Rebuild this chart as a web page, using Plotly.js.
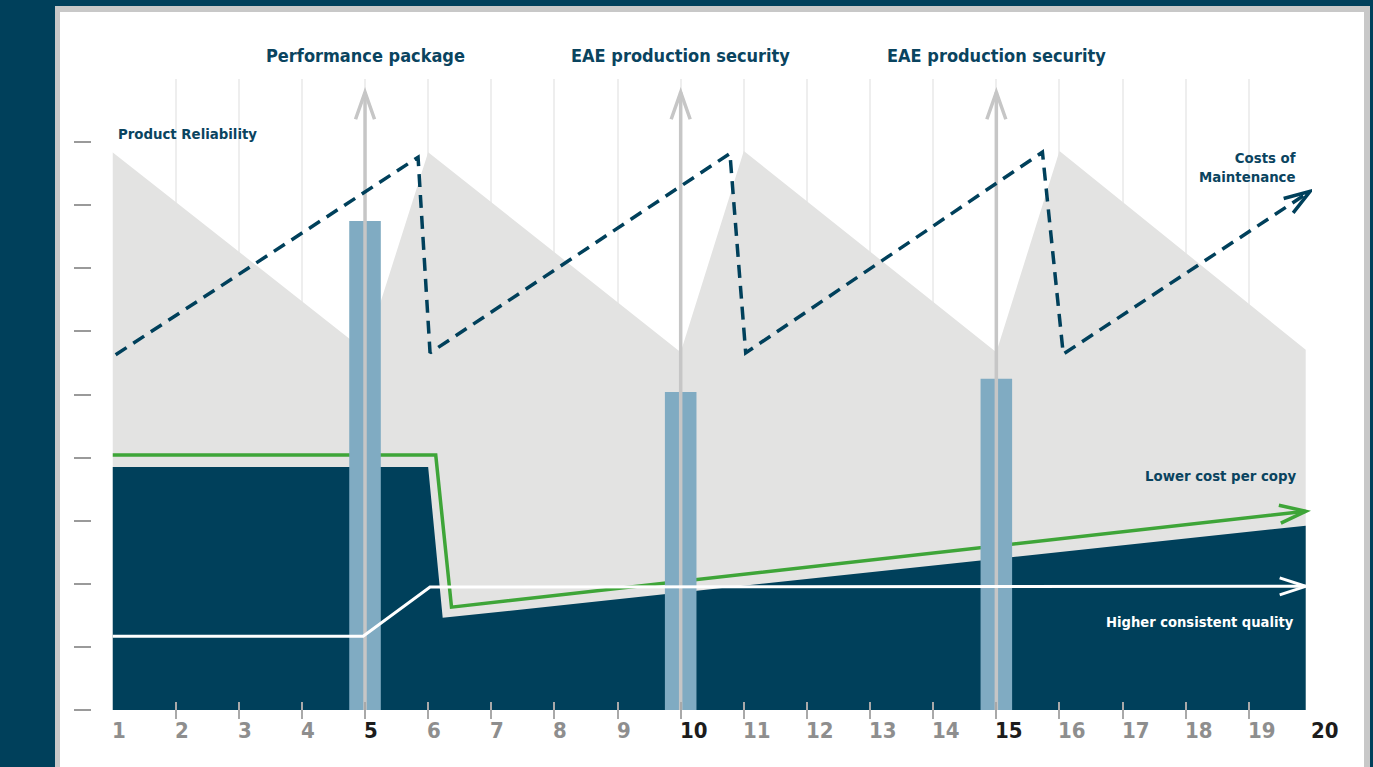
<!DOCTYPE html>
<html>
<head>
<meta charset="utf-8">
<script src="https://cdn.plot.ly/plotly-3.0.1.min.js"></script>
<style>
  html, body { margin: 0; padding: 0; background: #00405b; overflow: hidden; }
  #frame {
    position: absolute; left: 55px; top: 6px;
    width: 1304px; height: 755px;
    border-left: 5px solid #c8c8c8; border-top: 6px solid #c8c8c8; border-right: 6px solid #c8c8c8;
    background: #ffffff;
  }
  #chart { width: 1304px; height: 755px; }
</style>
</head>
<body>
<div id="frame"><div id="chart"></div></div>
<script>
// ---------------- data ----------------
const categories = [1,2,3,4,5,6,7,8,9,10,11,12,13,14,15,16,17,18,19,20];
const tickLabels = ['1','2','3','4','5','6','7','8','9','10','11','12','13','14','15','16','17','18','19','20'];
const highlightLabels = ['5','10','15','20'];
const tickMarkCats = [2,3,4,5,6,7,8,9,10,11,12,13,14,15,16,17,18,19];
const levelTicks = [0,1,2,3,4,5,6,7,8,9];

// Product Reliability (grey saw-tooth area)
const reliabilityX = [1, 5, 6, 10, 11, 15, 16, 19.9];
const reliabilityY = [8.84, 5.69, 8.84, 5.67, 8.86, 5.67, 8.86, 5.71];

// dark base area
const baseX = [1, 6, 6.23, 19.9];
const baseY = [3.85, 3.85, 1.46, 2.92];

// Lower cost per copy (green)
const costCopyX = [1, 6.12, 6.37, 19.9];
const costCopyY = [4.04, 4.04, 1.63, 3.15];

// Higher consistent quality (white)
const qualityX = [1, 4.97, 6.03, 19.9];
const qualityY = [1.17, 1.17, 1.95, 1.96];

// Costs of Maintenance (dashed)
const maintX = [1.05, 5.84, 6.03, 10.78, 11.03, 15.73, 16.06, 19.97];
const maintY = [5.63, 8.76, 5.66, 8.82, 5.66, 8.84, 5.64, 8.22];

// Interventions (bars + arrows)
const eventX = [5, 10, 15];
const eventBar = [7.75, 5.04, 5.25];
const eventArrowTop = [9.79, 9.79, 9.79];
const eventLabels = ['Performance package', 'EAE production security', 'EAE production security'];

// ---------------- layout geometry ----------------
const FIG_W = 1304, FIG_H = 755;
const M = {l: 10, r: 52, t: 67, b: 57};
const X_RANGE = [1, 20], Y_RANGE = [0, 10];
const PLOT_W = FIG_W - M.l - M.r, PLOT_H = FIG_H - M.t - M.b;
const X_DOM0 = 42.5 / PLOT_W;
const XPU = PLOT_W * (1 - X_DOM0) / (X_RANGE[1] - X_RANGE[0]);
const YPU = PLOT_H / (Y_RANGE[1] - Y_RANGE[0]);

const NAVY = '#00405b', TEXT_NAVY = '#0a445f', GREY_AREA = '#e3e3e2', BAR = '#80abc2',
      ARROW_GREY = '#c6c6c6', GREEN = '#3ea538';
const FONT = "'Liberation Sans Narrow', 'DejaVu Sans Condensed', 'Roboto Condensed', Roboto, sans-serif";

function chevron(x0, y0, x1, y1, L, H, color, width) {
  const dx = (x1 - x0) * XPU, dy = (y1 - y0) * YPU;
  const len = Math.hypot(dx, dy), ux = dx / len, uy = dy / len;
  const nx = -uy, ny = ux;
  const ax = -L * ux + H * nx, ay = -L * uy + H * ny;
  const bx = -L * ux - H * nx, by = -L * uy - H * ny;
  return {type: 'path', xref: 'x', yref: 'y', xsizemode: 'pixel', ysizemode: 'pixel',
    xanchor: x1, yanchor: y1, layer: 'above',
    path: `M${ax.toFixed(2)},${ay.toFixed(2)} L0,0 L${bx.toFixed(2)},${by.toFixed(2)}`,
    line: {color: color, width: width}};
}

// arrow shafts built from event arrays
const shaftX = [], shaftY = [];
eventX.forEach((x, i) => { shaftX.push(x, x, null); shaftY.push(0, eventArrowTop[i], null); });

const traces = [
  {type: 'scatter', mode: 'lines', x: reliabilityX, y: reliabilityY, fill: 'tozeroy',
   fillcolor: GREY_AREA, line: {width: 0, color: GREY_AREA}, xaxis: 'x', yaxis: 'y'},
  {type: 'scatter', mode: 'lines', x: baseX, y: baseY, fill: 'tozeroy',
   fillcolor: NAVY, line: {width: 0, color: NAVY}, xaxis: 'x', yaxis: 'y'},
  {type: 'scatter', mode: 'lines', x: costCopyX, y: costCopyY,
   line: {width: 3.5, color: GREEN}, xaxis: 'x', yaxis: 'y'},
  // overlay subplot: drawn above everything of the base subplot
  {type: 'bar', x: eventX, y: eventBar, width: 0.5, marker: {color: BAR, line: {width: 0}},
   xaxis: 'x2', yaxis: 'y2'},
  {type: 'scatter', mode: 'lines', x: shaftX, y: shaftY,
   line: {width: 3.5, color: ARROW_GREY}, xaxis: 'x2', yaxis: 'y2'},
  {type: 'scatter', mode: 'lines', x: qualityX, y: qualityY,
   line: {width: 3, color: '#ffffff'}, xaxis: 'x2', yaxis: 'y2'},
  {type: 'scatter', mode: 'lines', x: maintX, y: maintY,
   line: {width: 3.5, color: NAVY, dash: '13px,8px'}, xaxis: 'x2', yaxis: 'y2'}
];

const shapes = [];
eventX.forEach((x, i) => shapes.push(chevron(x, 0, x, eventArrowTop[i], 27, 9.5, ARROW_GREY, 3.5)));
const n1 = costCopyX.length - 1;
shapes.push(chevron(costCopyX[n1 - 1], costCopyY[n1 - 1], costCopyX[n1], costCopyY[n1], 26, 9, GREEN, 3.5));
const n2 = qualityX.length - 1;
shapes.push(chevron(qualityX[n2 - 1], qualityY[n2 - 1], qualityX[n2], qualityY[n2], 26, 8.5, '#ffffff', 3));
const n3 = maintX.length - 1;
shapes.push(chevron(maintX[n3 - 1], maintY[n3 - 1], maintX[n3], maintY[n3], 26, 8.6, NAVY, 3.5));

const annotations = [];
// category labels under the axis
categories.forEach((c, i) => {
  const hl = highlightLabels.includes(tickLabels[i]);
  annotations.push({xref: 'x', yref: 'paper', x: c, y: -0.0317, xanchor: 'left', yanchor: 'middle',
    xshift: -3, showarrow: false, text: tickLabels[i],
    font: {family: FONT, size: 22, weight: 'bold', color: hl ? '#1c1c1c' : '#8e8e8e'}});
});
// event titles
eventX.forEach((x, i) => annotations.push({xref: 'x', yref: 'paper', x: x, y: 1.038,
  xanchor: 'center', yanchor: 'middle', showarrow: false, text: eventLabels[i],
  font: {family: FONT, size: 18, weight: 'bold', color: TEXT_NAVY}}));
// series labels
annotations.push({xref: 'x', yref: 'y', x: 1.05, y: 9.14, xanchor: 'left', yanchor: 'middle',
  showarrow: false, text: 'Product Reliability', font: {family: FONT, size: 14.8, weight: 'bold', color: TEXT_NAVY}});
annotations.push({xref: 'x', yref: 'y', x: 19.78, y: 8.6, xanchor: 'right', yanchor: 'middle', align: 'right',
  showarrow: false, text: 'Costs of<br>Maintenance', font: {family: FONT, size: 14.8, weight: 'bold', color: TEXT_NAVY}});
annotations.push({xref: 'x', yref: 'y', x: 19.78, y: 3.71, xanchor: 'right', yanchor: 'middle',
  showarrow: false, text: 'Lower cost per copy', font: {family: FONT, size: 14.8, weight: 'bold', color: TEXT_NAVY}});
annotations.push({xref: 'x', yref: 'y', x: 19.75, y: 1.41, xanchor: 'right', yanchor: 'middle',
  showarrow: false, text: 'Higher consistent quality', font: {family: FONT, size: 14.6, weight: 'bold', color: '#ffffff'}});

const layout = {
  width: FIG_W, height: FIG_H,
  margin: M,
  paper_bgcolor: '#ffffff', plot_bgcolor: 'rgba(0,0,0,0)',
  showlegend: false, hovermode: false,
  xaxis: {range: X_RANGE, domain: [X_DOM0, 1], anchor: 'free', position: 9 / PLOT_H,
    tickmode: 'array', tickvals: tickMarkCats, showticklabels: false,
    ticks: 'outside', ticklen: 17, tickwidth: 2, tickcolor: '#a9a9a9',
    showgrid: true, gridcolor: '#eeeeee', gridwidth: 2, zeroline: false, showline: false},
  yaxis: {range: Y_RANGE, domain: [0, 1], anchor: 'free', position: 21 / PLOT_W,
    tickmode: 'array', tickvals: levelTicks, showticklabels: false,
    ticks: 'outside', ticklen: 17, tickwidth: 2, tickcolor: '#9a9a9a',
    showgrid: false, zeroline: false, showline: false},
  xaxis2: {overlaying: 'x', range: X_RANGE, visible: false},
  yaxis2: {overlaying: 'y', range: Y_RANGE, visible: false},
  shapes: shapes,
  annotations: annotations
};

Plotly.newPlot('chart', traces, layout, {staticPlot: true, displayModeBar: false});
</script>
</body>
</html>
